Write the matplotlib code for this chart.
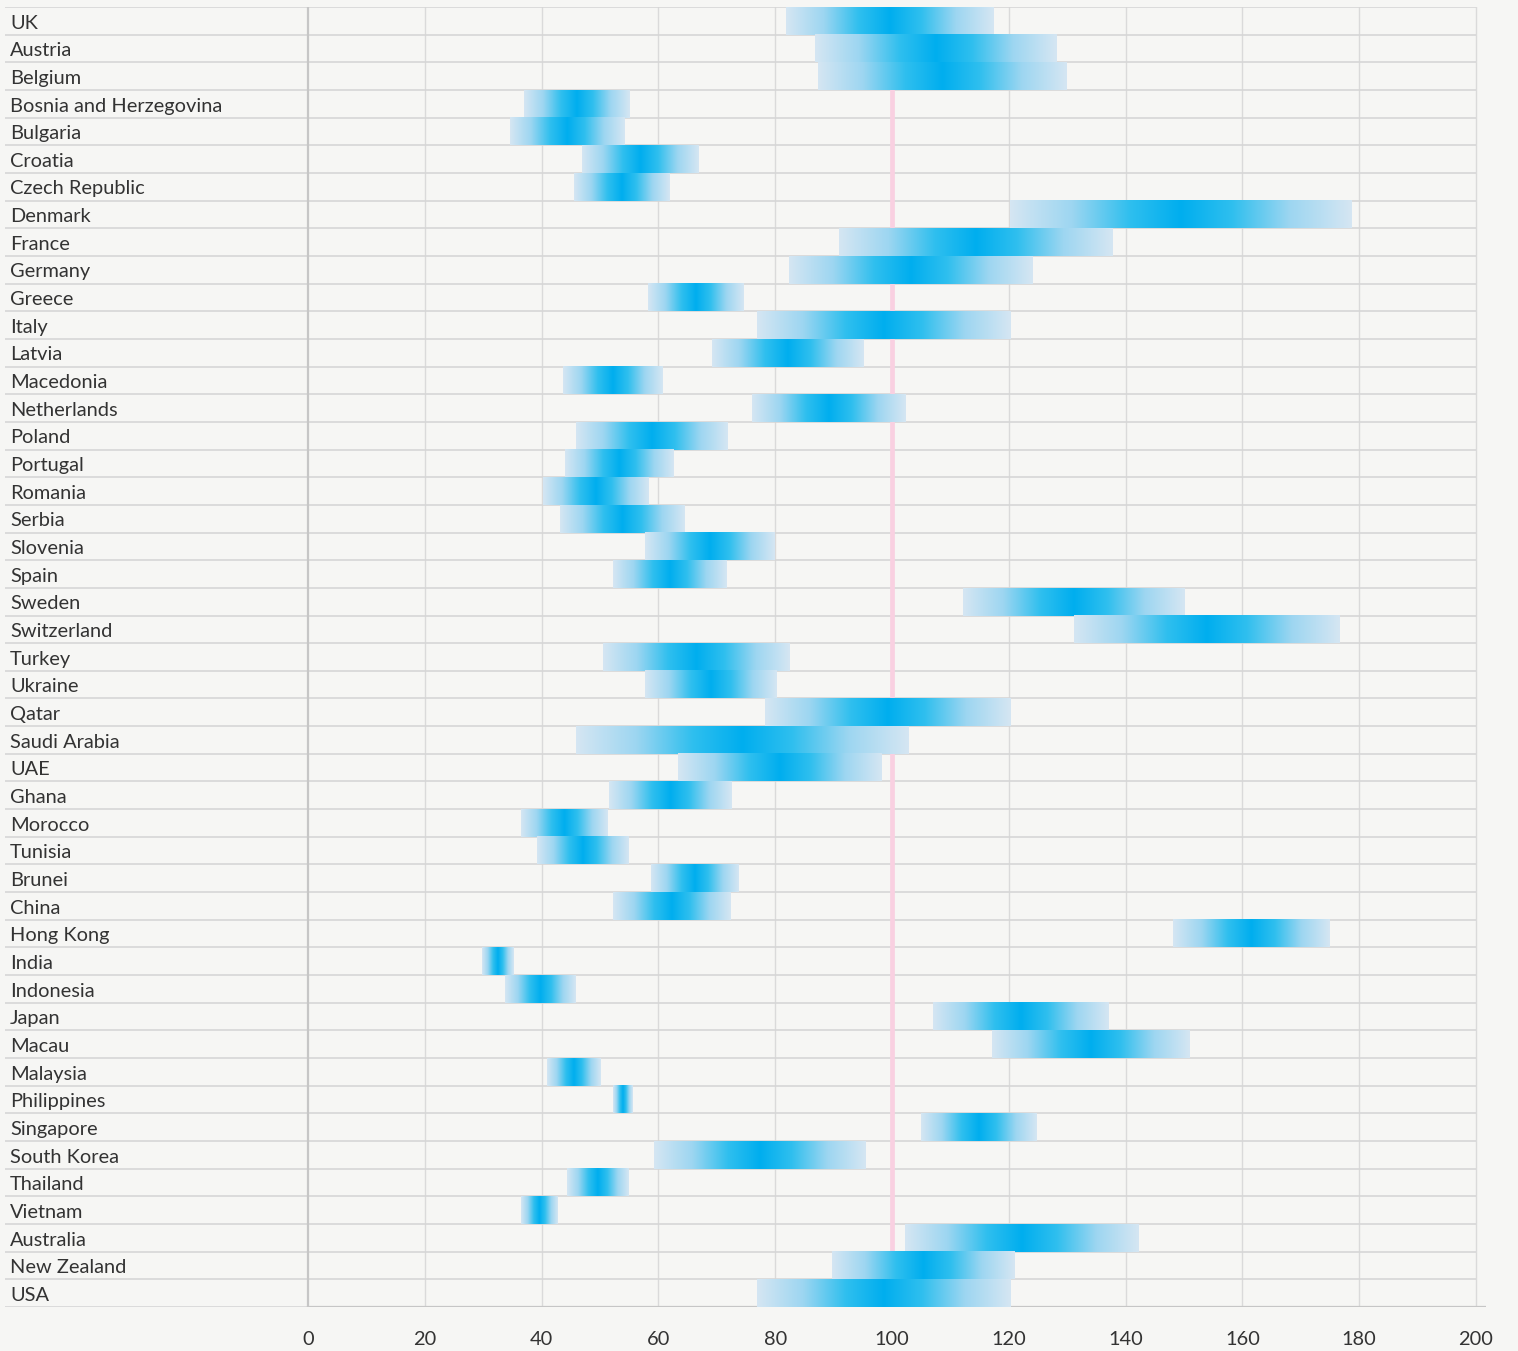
import numpy as np
import matplotlib
matplotlib.use("Agg")
import matplotlib.pyplot as plt
from matplotlib.colors import LinearSegmentedColormap

countries = ["UK", "Austria", "Belgium", "Bosnia and Herzegovina", "Bulgaria", "Croatia",
             "Czech Republic", "Denmark", "France", "Germany", "Greece", "Italy", "Latvia",
             "Macedonia", "Netherlands", "Poland", "Portugal", "Romania", "Serbia", "Slovenia",
             "Spain", "Sweden", "Switzerland", "Turkey", "Ukraine", "Qatar", "Saudi Arabia",
             "UAE", "Ghana", "Morocco", "Tunisia", "Brunei", "China", "Hong Kong", "India",
             "Indonesia", "Japan", "Macau", "Malaysia", "Philippines", "Singapore",
             "South Korea", "Thailand", "Vietnam", "Australia", "New Zealand", "USA"]
low = [81.8, 86.8, 87.3, 37.0, 34.6, 46.9, 45.5, 120.2, 91.0, 82.4, 58.3, 76.8, 69.1,
       43.6, 76.1, 45.9, 44.0, 40.2, 43.1, 57.7, 52.2, 112.1, 131.1, 50.5, 57.7, 78.2,
       45.9, 63.3, 51.5, 36.4, 39.2, 58.7, 52.2, 148.1, 29.8, 33.7, 107.1, 117.2, 40.9,
       52.2, 104.9, 59.2, 44.3, 36.4, 102.3, 89.8, 76.8]
high = [117.4, 128.2, 129.9, 55.1, 54.2, 66.9, 61.8, 178.7, 137.8, 124.1, 74.6, 120.2,
        95.0, 60.6, 102.3, 71.9, 62.6, 58.3, 64.5, 79.9, 71.7, 150.1, 176.6, 82.5, 80.2,
        120.2, 102.8, 98.2, 72.4, 51.2, 54.9, 73.6, 72.4, 174.9, 35.2, 45.7, 137.2, 151.1,
        50.1, 55.6, 124.6, 95.5, 54.9, 42.6, 142.2, 121.0, 120.2]
ticks = list(range(0, 201, 20))
reference = 100

bg = "#f6f6f4"
W, H = 1518, 1351
fig = plt.figure(figsize=(W / 100, H / 100), dpi=100, facecolor=bg)

# axes placed in pixel terms: 0 -> x=308px, 200 -> x=1476px
px_left, px_right, px_top, px_bot = 5, 1486, 7, 1307
ax = fig.add_axes([px_left / W, 1 - px_bot / H, (px_right - px_left) / W, (px_bot - px_top) / H])
ax.set_facecolor(bg)
scale = (1476 - 308) / 200
xmin = -(308 - px_left) / scale
xmax = 200 + (px_right - 1476) / scale
n = len(countries)

grad_cmap = LinearSegmentedColormap.from_list(
    "bar", [(0, "#d5e6f3"), (0.18, "#9dd6f1"), (0.35, "#2fbfee"), (0.5, "#00aeef"),
            (0.65, "#2fbfee"), (0.82, "#9dd6f1"), (1, "#d5e6f3")])
gradient = np.linspace(0, 1, 512).reshape(1, -1)

# grid
for t in ticks[1:]:
    ax.plot([t, t], [0, n], color="#dadada", lw=1.0, zorder=1)
ax.hlines(np.arange(n + 1), xmin, 200, color="#d6d6d6", lw=1.2, zorder=1)
ax.plot([0, 0], [0, n], color="#c6c6c6", lw=1.6, zorder=2)
ax.plot([0, xmax], [n, n], color="#c6c6c6", lw=1.6, zorder=2)
ax.axvline(reference, ymin=0, ymax=1, color="#f9d0e1", lw=3.4, zorder=2)

# bars
for i, (c, lo, hi) in enumerate(zip(countries, low, high)):
    ax.imshow(gradient, cmap=grad_cmap, aspect="auto", extent=(lo, hi, i + 1, i),
              interpolation="bilinear", zorder=3)
    ax.text(xmin + 5 / scale, i + 0.58, c, ha="left", va="center", fontsize=14.4,
            color="#333333", family="Lato")

ax.set_xlim(xmin, xmax)
ax.set_ylim(n, 0)
ax.set_xticks(ticks)
ax.set_xticklabels([str(t) for t in ticks], fontsize=14.4, color="#333333", family="Lato")
ax.tick_params(axis="x", length=0, pad=17)
ax.set_yticks([])
for s in ax.spines.values():
    s.set_visible(False)

fig.savefig("out.png", dpi=100, facecolor=bg)
